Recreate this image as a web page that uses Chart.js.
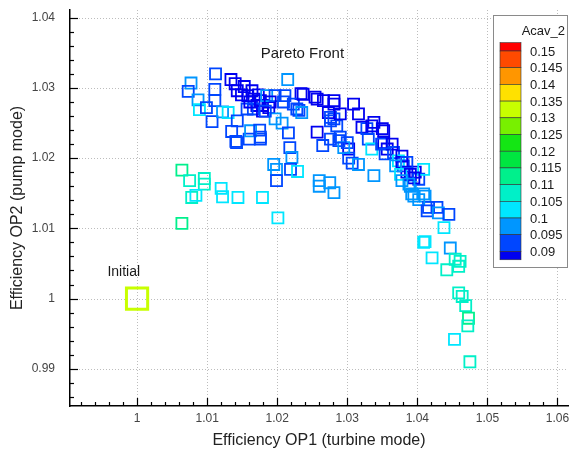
<!DOCTYPE html>
<html>
<head>
<meta charset="utf-8">
<script src="https://cdn.jsdelivr.net/npm/chart.js@4.4.1/dist/chart.umd.min.js"></script>
<style>
  html, body { margin: 0; padding: 0; background: #fff; }
  #wrap { width: 572px; height: 452px; }
</style>
</head>
<body>
<div id="wrap"><canvas id="paretoChart"></canvas></div>
<script>
/* Optimisation results: efficiency OP1 / OP2 and cavitation value */

const effOP1 = [
  1.0064, 1.0075, 1.0096, 1.0096, 1.0078, 1.0084, 1.0120, 1.0122, 1.0144, 1.0179, 1.0064, 1.0201,
  1.0195, 1.0199, 1.0199, 1.0218, 1.0221, 1.0219, 1.0229, 1.0260, 1.0260, 1.0275, 1.0281,
  1.0142, 1.0160, 1.0176, 1.0265, 1.0302, 1.0302, 1.0307,
  1.0112, 1.0077, 1.0073, 1.0111, 1.0087, 1.0089, 1.0099, 1.0111, 1.0107, 1.0122, 1.0130,
  1.0143, 1.0135, 1.0141, 1.0162, 1.0175, 1.0176,
  1.0134, 1.0140, 1.0143, 1.0153, 1.0158, 1.0164, 1.0167, 1.0173, 1.0171, 1.0179, 1.0188,
  1.0157, 1.0166, 1.0176, 1.0185, 1.0197, 1.0211, 1.0215, 1.0234, 1.0228, 1.0209, 1.0223,
  1.0197, 1.0207, 1.0216, 1.0179, 1.0190, 1.0149, 1.0161, 1.0183, 1.0231,
  1.0257, 1.0266, 1.0281, 1.0273, 1.0276, 1.0257, 1.0276, 1.0281,
  1.0237, 1.0254, 1.0281, 1.0276, 1.0285, 1.0290, 1.0309, 1.0316, 1.0321, 1.0328, 1.0335, 1.0350,
  1.0288, 1.0300, 1.0316, 1.0330, 1.0335, 1.0338, 1.0352, 1.0357, 1.0366, 1.0373, 1.0380,
  1.0385, 1.0397, 1.0402, 1.0409, 1.0390, 1.0395, 1.0411, 1.0416, 1.0428, 1.0235, 1.0295,
  1.0290, 1.0349,
  1.0338, 1.0352, 1.0364, 1.0354, 1.0378, 1.0378, 1.0385, 1.0369, 1.0376, 1.0390, 1.0395,
  1.0388, 1.0392, 1.0409,
  1.0378, 1.0402, 1.0414, 1.0430, 1.0445, 1.0438, 1.0409, 1.0411, 1.0447, 1.0421, 1.0454,
  1.0461, 1.0459, 1.0442, 1.0459, 1.0464, 1.0469, 1.0473, 1.0472, 1.0453, 1.0475
];

const effOP2 = [
  1.0183, 1.0168, 1.0171, 1.0163, 1.0144, 1.0147, 1.0157, 1.0145, 1.0144, 1.0144, 1.0107, 1.0115,
  1.0191, 1.0184, 1.0168, 1.0215, 1.0201, 1.0184, 1.0181, 1.0168, 1.0160, 1.0165, 1.0151,
  1.0222, 1.0227, 1.0227, 1.0218, 1.0213, 1.0200, 1.0193,
  1.0320, 1.0307, 1.0295, 1.0298, 1.0283, 1.0269, 1.0272, 1.0282, 1.0252, 1.0266, 1.0265,
  1.0253, 1.0238, 1.0224, 1.0239, 1.0240, 1.0230,
  1.0312, 1.0306, 1.0296, 1.0302, 1.0289, 1.0296, 1.0284, 1.0290, 1.0275, 1.0275, 1.0272,
  1.0270, 1.0270, 1.0282, 1.0289, 1.0289, 1.0289, 1.0312, 1.0292, 1.0270, 1.0280, 1.0277,
  1.0256, 1.0250, 1.0236, 1.0267, 1.0280, 1.0290, 1.0280, 1.0267, 1.0268,
  1.0284, 1.0282, 1.0282, 1.0265, 1.0258, 1.0237, 1.0227, 1.0256,
  1.0291, 1.0287, 1.0277, 1.0253, 1.0246, 1.0263, 1.0277, 1.0263, 1.0244, 1.0242, 1.0246, 1.0242,
  1.0225, 1.0222, 1.0191, 1.0227, 1.0213, 1.0175, 1.0222, 1.0213, 1.0208, 1.0196, 1.0189,
  1.0180, 1.0180, 1.0170, 1.0184, 1.0160, 1.0146, 1.0146, 1.0130, 1.0130, 1.0265, 1.0215,
  1.0230, 1.0220,
  1.0251, 1.0239, 1.0220, 1.0206, 1.0203, 1.0194, 1.0194, 1.0189, 1.0177, 1.0177, 1.0172,
  1.0163, 1.0149, 1.0149,
  1.0168, 1.0141, 1.0125, 1.0122, 1.0120, 1.0101, 1.0080, 1.0081, 1.0072, 1.0058, 1.0056,
  1.0053, 1.0046, 1.0041, 1.0008, 1.0003, 0.9990, 0.9972, 0.9961, 0.9942, 0.9910
];

const acav = [
  0.113, 0.108, 0.108, 0.108, 0.108, 0.103, 0.103, 0.103, 0.103, 0.103, 0.113, 0.103,
  0.098, 0.098, 0.093, 0.093, 0.098, 0.093, 0.103, 0.098, 0.098, 0.098, 0.098,
  0.093, 0.093, 0.093, 0.093, 0.088, 0.093, 0.093,
  0.093, 0.098, 0.093, 0.093, 0.098, 0.103, 0.093, 0.093, 0.093, 0.098, 0.103,
  0.093, 0.093, 0.093, 0.098, 0.093, 0.093,
  0.088, 0.088, 0.088, 0.088, 0.088, 0.088, 0.088, 0.088, 0.088, 0.088, 0.088,
  0.093, 0.093, 0.088, 0.098, 0.093, 0.093, 0.098, 0.088, 0.093, 0.093, 0.093,
  0.098, 0.098, 0.093, 0.088, 0.088, 0.088, 0.088, 0.093, 0.093,
  0.088, 0.088, 0.088, 0.088, 0.093, 0.088, 0.093, 0.093,
  0.088, 0.088, 0.088, 0.093, 0.093, 0.088, 0.088, 0.088, 0.088, 0.093, 0.088, 0.088,
  0.093, 0.093, 0.098, 0.093, 0.103, 0.098, 0.088, 0.088, 0.093, 0.103, 0.093,
  0.088, 0.088, 0.093, 0.103, 0.098, 0.098, 0.098, 0.093, 0.093, 0.098, 0.098,
  0.093, 0.093,
  0.088, 0.088, 0.088, 0.093, 0.088, 0.088, 0.093, 0.098, 0.103, 0.088, 0.088,
  0.098, 0.098, 0.098,
  0.098, 0.098, 0.093, 0.098, 0.093, 0.103, 0.103, 0.103, 0.098, 0.103, 0.108,
  0.108, 0.108, 0.108, 0.108, 0.108, 0.108, 0.113, 0.108, 0.103, 0.108
];

const initialOP1 = [1.0];
const initialOP2 = [1.0];
const initialAcav = [0.132];

/* Contour legend levels (top to bottom) and band colours */
const legendLevels = [0.15, 0.145, 0.14, 0.135, 0.13, 0.125, 0.12, 0.115, 0.11, 0.105, 0.1, 0.095, 0.09];
const legendColors = [
  "#ff0000", "#ff4a00", "#ff9600", "#ffe100", "#c8ff00", "#78f000", "#14e614",
  "#00e640", "#00f08c", "#00f0c8", "#00e6ff", "#0096ff", "#0046ff", "#0000f0"
];

const xTickLabels = ["1", "1.01", "1.02", "1.03", "1.04", "1.05", "1.06"];
const yTickLabels = ["0.99", "1", "1.01", "1.02", "1.03", "1.04"];

function colorFor(v) {
  for (let i = 0; i < legendLevels.length; i++) {
    if (v >= legendLevels[i]) return legendColors[i];
  }
  return legendColors[legendColors.length - 1];
}

function isMajor(v) {
  return Math.abs(v * 100 - Math.round(v * 100)) < 1e-6;
}

function tickText(v) {
  if (!isMajor(v)) return "";
  return String(Math.round(v * 100) / 100);
}

const FONT = "'Liberation Sans', Arial, sans-serif";

/* dotted grid behind the points */
const gridPlugin = {
  id: "dottedGrid",
  beforeDatasetsDraw(chart) {
    const { ctx, chartArea, scales } = chart;
    ctx.save();
    ctx.strokeStyle = "#bdbdbd";
    ctx.lineWidth = 1;
    ctx.setLineDash([1, 2]);
    scales.x.ticks.filter(t => isMajor(t.value)).forEach(t => {
      const px = Math.round(scales.x.getPixelForValue(t.value)) + 0.5;
      ctx.beginPath();
      ctx.moveTo(px, chartArea.top);
      ctx.lineTo(px, chartArea.bottom);
      ctx.stroke();
    });
    scales.y.ticks.filter(t => isMajor(t.value)).forEach(t => {
      const py = Math.round(scales.y.getPixelForValue(t.value)) + 0.5;
      ctx.beginPath();
      ctx.moveTo(chartArea.left, py);
      ctx.lineTo(chartArea.right, py);
      ctx.stroke();
    });
    ctx.restore();
  }
};

/* Inside tick marks, text labels and the contour legend */
const decorPlugin = {
  id: "decor",
  afterDatasetsDraw(chart) {
    const { ctx, chartArea, scales } = chart;
    const xs = scales.x, ys = scales.y;
    ctx.save();
    ctx.strokeStyle = "#000";
    ctx.lineWidth = 1.2;
    xs.ticks.forEach(t => {
      const px = Math.round(xs.getPixelForValue(t.value)) + 0.5;
      const len = isMajor(t.value) ? 8 : 4;
      ctx.beginPath();
      ctx.moveTo(px, chartArea.bottom);
      ctx.lineTo(px, chartArea.bottom - len);
      ctx.stroke();
    });
    ys.ticks.forEach(t => {
      const py = Math.round(ys.getPixelForValue(t.value)) + 0.5;
      const len = isMajor(t.value) ? 8 : 4;
      ctx.beginPath();
      ctx.moveTo(chartArea.left, py);
      ctx.lineTo(chartArea.left + len, py);
      ctx.stroke();
    });

    ctx.fillStyle = "#1a1a1a";
    ctx.textAlign = "center";
    ctx.textBaseline = "middle";
    ctx.font = "15px " + FONT;
    ctx.fillText("Pareto Front", xs.getPixelForValue(1.0236), ys.getPixelForValue(1.0349));
    ctx.font = "14px " + FONT;
    ctx.fillText("Initial", xs.getPixelForValue(0.9981), ys.getPixelForValue(1.0038));

    // legend box
    const bx = 493, by = 15, bw = 75, bh = 253;
    ctx.fillStyle = "#fff";
    ctx.fillRect(bx, by, bw, bh);
    ctx.strokeStyle = "#8a8a8a";
    ctx.lineWidth = 1;
    ctx.strokeRect(bx + 0.5, by + 0.5, bw - 1, bh - 1);

    ctx.fillStyle = "#1a1a1a";
    ctx.font = "13px " + FONT;
    ctx.textAlign = "right";
    ctx.fillText("Acav_2", 565, 31);

    const step = 16.7, firstY = 51, barX = 500, barW = 21;
    const nBands = legendColors.length;
    for (let i = 0; i < nBands; i++) {
      const top = i === 0 ? firstY - step / 2 : firstY + (i - 1) * step;
      const bottom = i === nBands - 1 ? firstY + (i - 1) * step + step / 2 : firstY + i * step;
      ctx.fillStyle = legendColors[i];
      ctx.fillRect(barX, top, barW, bottom - top);
      ctx.strokeStyle = "#333";
      ctx.lineWidth = 0.6;
      ctx.strokeRect(barX, top, barW, bottom - top);
    }
    ctx.fillStyle = "#1a1a1a";
    ctx.textAlign = "left";
    legendLevels.forEach((lv, i) => {
      ctx.fillText(String(lv), 530, firstY + i * step + 1);
    });
    ctx.restore();
  }
};

const points = effOP1.map((x, i) => ({ x, y: effOP2[i] }));

function noPad(s) {
  s.paddingTop = 0;
  s.paddingBottom = 0;
  s.paddingLeft = 0;
  s.paddingRight = 0;
}

new Chart(document.querySelector("#paretoChart"), {
  type: "scatter",
  data: {
    datasets: [
      {
        label: "Designs",
        data: points,
        pointStyle: "rect",
        pointRadius: 7.8,
        pointHoverRadius: 7.8,
        borderWidth: 1.8,
        backgroundColor: "rgba(0,0,0,0)",
        borderColor: acav.map(colorFor)
      },
      {
        label: "Initial",
        data: initialOP1.map((x, i) => ({ x, y: initialOP2[i] })),
        pointStyle: "rect",
        pointRadius: 15,
        pointHoverRadius: 15,
        borderWidth: 3,
        backgroundColor: "rgba(0,0,0,0)",
        borderColor: initialAcav.map(colorFor)
      }
    ]
  },
  options: {
    responsive: true,
    maintainAspectRatio: false,
    animation: false,
    layout: { autoPadding: false, padding: { top: 10, right: 4, left: 0, bottom: 0 } },
    plugins: {
      legend: { display: false },
      tooltip: { enabled: false }
    },
    scales: {
      x: {
        type: "linear",
        min: 0.99043,
        max: 1.0615,
        afterFit: s => { s.height = 46; noPad(s); },
        ticks: {
          stepSize: 0.002,
          includeBounds: false,
          autoSkip: false,
          maxRotation: 0,
          padding: 5,
          color: "#444",
          font: { family: FONT, size: 12 },
          callback: v => {
            const s = tickText(v);
            return xTickLabels.includes(s) ? s : "";
          }
        },
        grid: { display: false, drawTicks: false },
        border: { display: true, color: "#000", width: 1.5 },
        title: {
          display: true,
          text: "Efficiency OP1 (turbine mode)",
          color: "#222",
          font: { family: FONT, size: 16 },
          padding: { top: 0, bottom: 2 }
        }
      },
      y: {
        type: "linear",
        min: 0.9847,
        max: 1.0411,
        afterFit: s => { s.width = 70; noPad(s); },
        ticks: {
          stepSize: 0.002,
          includeBounds: false,
          autoSkip: false,
          padding: 15,
          color: "#444",
          font: { family: FONT, size: 12 },
          callback: v => {
            const s = tickText(v);
            return yTickLabels.includes(s) ? s : "";
          }
        },
        grid: { display: false, drawTicks: false },
        border: { display: true, color: "#000", width: 1.5 },
        title: {
          display: true,
          text: "Efficiency OP2 (pump mode)",
          color: "#222",
          font: { family: FONT, size: 16 },
          padding: { top: 8, bottom: 0 }
        }
      }
    }
  },
  plugins: [gridPlugin, decorPlugin]
});
</script>
</body>
</html>
